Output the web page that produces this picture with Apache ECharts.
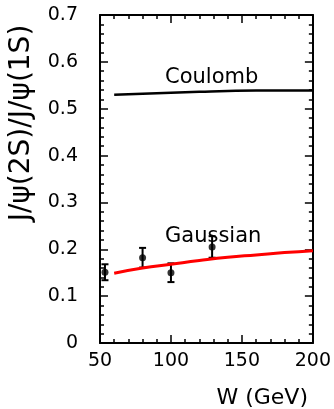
<!DOCTYPE html>
<html lang="en">
<head>
  <meta charset="UTF-8">
  <title>psi(2S)/psi(1S) ratio</title>
  <script src="https://cdn.jsdelivr.net/npm/echarts@6.0.0/dist/echarts.min.js"></script>
</head>
<body style="margin:0;background:#fff">
<div id="main" style="width:334px;height:409px;"></div>
<script type="text/javascript">

  // measured points: W (GeV), ratio, error
  var pointW = [53.5, 80, 100, 129];
  var pointR = [0.151, 0.182, 0.150, 0.205];
  var pointErr = [0.017, 0.021, 0.020, 0.023];

  // model curves
  var curveW = [60, 80, 100, 120, 140, 160, 180, 200];
  var coulomb = [0.530, 0.532, 0.534, 0.536, 0.538, 0.539, 0.539, 0.539];
  var gaussian = [0.149, 0.160, 0.168, 0.176, 0.183, 0.188, 0.193, 0.197];

  var font = 'DejaVu Sans';

  var myChart = echarts.init(document.getElementById('main'));

  var pts = pointW.map(function (w, i) { return [w, pointR[i], pointErr[i]]; });

  // ticks pointing into the frame (negative length)
  function axisBase(extra) {
    var a = {
      axisLine: {show: true, onZero: false, lineStyle: {color: '#000', width: 2}},
      axisTick: {show: true, inside: false, length: -8, lineStyle: {color: '#000', width: 1.5}},
      minorTick: {show: true, length: -4, splitNumber: 5, lineStyle: {color: '#000', width: 1.5}},
      splitLine: {show: false},
      minorSplitLine: {show: false}
    };
    for (var k in extra) a[k] = extra[k];
    return a;
  }

  myChart.setOption({
    backgroundColor: '#fff',
    animation: false,
    grid: {left: 100, right: 21, top: 15, bottom: 66},
    xAxis: [
      axisBase({type: 'value', position: 'bottom', min: 50, max: 200, interval: 50,
        axisLabel: {color: '#000', fontSize: 19, fontFamily: font, margin: 9}}),
      axisBase({type: 'value', position: 'top', min: 50, max: 200, interval: 50,
        axisLabel: {show: false}})
    ],
    yAxis: [
      axisBase({type: 'value', position: 'left', min: 0, max: 0.7, interval: 0.1,
        axisLabel: {color: '#000', fontSize: 19, fontFamily: font, margin: 22}}),
      axisBase({type: 'value', position: 'right', min: 0, max: 0.7, interval: 0.1,
        axisLabel: {show: false}})
    ],
    series: [
      {
        name: 'Coulomb', type: 'line', smooth: true, showSymbol: false,
        data: curveW.map(function (w, i) { return [w, coulomb[i]]; }),
        lineStyle: {color: '#000', width: 2.5}
      },
      {
        name: 'Gaussian', type: 'line', smooth: true, showSymbol: false,
        data: curveW.map(function (w, i) { return [w, gaussian[i]]; }),
        lineStyle: {color: '#ff0000', width: 3}
      },
      {
        // error bars
        type: 'custom',
        data: pts,
        renderItem: function (params, api) {
          var x = api.value(0), y = api.value(1), e = api.value(2);
          var top = api.coord([x, y + e]);
          var bot = api.coord([x, y - e]);
          var hw = 3.5;
          var st = {stroke: '#000', lineWidth: 2};
          return {
            type: 'group',
            children: [
              {type: 'line', shape: {x1: top[0], y1: top[1], x2: bot[0], y2: bot[1]}, style: st},
              {type: 'line', shape: {x1: top[0] - hw, y1: top[1], x2: top[0] + hw, y2: top[1]}, style: st},
              {type: 'line', shape: {x1: bot[0] - hw, y1: bot[1], x2: bot[0] + hw, y2: bot[1]}, style: st}
            ]
          };
        },
        z: 3
      },
      {
        type: 'scatter', symbol: 'circle', symbolSize: 7,
        data: pts.map(function (p) { return [p[0], p[1]]; }),
        itemStyle: {color: '#000'}, z: 4
      }
    ],
    graphic: [
      {type: 'text', left: 165, top: 67,
        style: {text: 'Coulomb', font: '21px "DejaVu Sans"', fill: '#000'}},
      {type: 'text', left: 165, top: 226,
        style: {text: 'Gaussian', font: '21px "DejaVu Sans"', fill: '#000'}},
      {type: 'text', right: 26, top: 387,
        style: {text: 'W (GeV)', font: '22px "DejaVu Sans"', fill: '#000'}},
      {type: 'text', x: 22, y: 123, rotation: Math.PI / 2,
        style: {text: 'J/ψ(2S)/J/ψ(1S)', font: '28px "DejaVu Sans"', fill: '#000',
          align: 'center', verticalAlign: 'middle'}}
    ]
  });

</script>
</body>
</html>
